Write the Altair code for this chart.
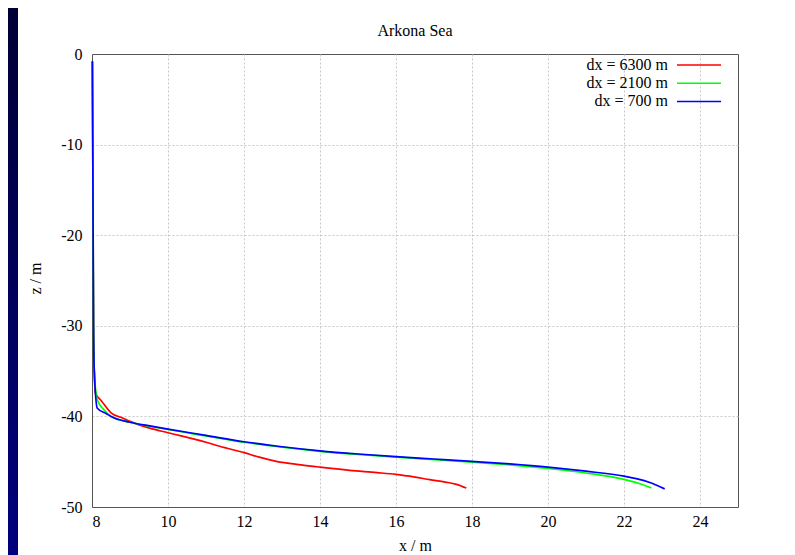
import altair as alt
import pandas as pd

series_labels = ["dx = 6300 m", "dx = 2100 m", "dx = 700 m"]
series_colors = ["#ff0000", "#00ff00", "#0000ff"]

x_ticks = [8, 10, 12, 14, 16, 18, 20, 22, 24]
y_ticks = [-50, -40, -30, -20, -10, 0]

x_6300 = [8.01, 8.02, 8.03, 8.04, 8.06, 8.09, 8.25, 8.5, 8.82, 9.0, 9.52, 10.0, 11.0, 11.36,
          12.0, 12.4, 12.85, 13.5, 14.0, 14.78, 15.5, 16.0, 16.5, 16.89, 17.3, 17.59, 17.85]
z_6300 = [-0.8, -10, -20, -30, -35, -37.4, -38.3, -39.6, -40.2, -40.55, -41.3, -41.8, -42.85, -43.3,
          -44.0, -44.5, -44.96, -45.35, -45.6, -45.95, -46.2, -46.4, -46.7, -46.98, -47.25, -47.5, -47.9]

x_2100 = [8.01, 8.02, 8.03, 8.04, 8.06, 8.14, 8.3, 8.5, 9.0, 10.0, 11.0, 12.0, 13.0, 14.0,
          15.0, 16.0, 17.0, 18.0, 19.0, 20.0, 21.0, 22.0, 22.4, 22.72]
z_2100 = [-0.8, -10, -20, -30, -35, -38.2, -39.2, -40.0, -40.65, -41.45, -42.15, -42.85, -43.4, -43.85,
          -44.2, -44.5, -44.78, -45.05, -45.35, -45.75, -46.25, -46.95, -47.4, -47.9]

x_700 = [8.01, 8.02, 8.03, 8.04, 8.06, 8.14, 8.38, 8.5, 9.0, 9.52, 10.0, 11.0, 12.0, 13.0, 14.0,
         15.0, 16.0, 17.0, 18.0, 19.0, 20.0, 21.0, 22.0, 22.35, 22.68, 23.07]
z_700 = [-0.8, -10, -20, -30, -35, -39.1, -39.7, -40.0, -40.65, -41.05, -41.4, -42.1, -42.8, -43.35, -43.8,
         -44.15, -44.45, -44.7, -44.96, -45.25, -45.6, -46.05, -46.6, -46.9, -47.3, -48.0]

rows = []
for label, xs, zs in [(series_labels[0], x_6300, z_6300),
                      (series_labels[1], x_2100, z_2100),
                      (series_labels[2], x_700, z_700)]:
    for i, (xv, zv) in enumerate(zip(xs, zs)):
        rows.append({"series": label, "x": xv, "z": zv, "i": i})
df = pd.DataFrame(rows)

FONT = "Liberation Serif"

lines = alt.Chart(df).mark_line(strokeWidth=1.7, interpolate="monotone").encode(
    x=alt.X("x:Q",
            scale=alt.Scale(domain=[8, 25], nice=False, zero=False),
            axis=alt.Axis(values=x_ticks, title="x / m", labelExpr="datum.value + ''",
                          ticks=False, tickSize=0, labelPadding=6,
                          titleY=43, titleBaseline="alphabetic")),
    y=alt.Y("z:Q",
            scale=alt.Scale(domain=[-50, 0], nice=False, zero=False),
            axis=alt.Axis(values=y_ticks, title="z / m", labelExpr="datum.value + ''",
                          ticks=False, tickSize=0, labelPadding=10,
                          gridOpacity={"condition": {"test": "datum.value == 0", "value": 0},
                                       "value": 1},
                          titleX=-57, titleY=224, titleAngle=270,
                          titleAlign="center", titleBaseline="middle")),
    color=alt.Color("series:N",
                    scale=alt.Scale(domain=series_labels, range=series_colors),
                    legend=alt.Legend(title=None, orient="none", legendX=558, legendY=2,
                                      symbolType="M-2.75,0H2.75", symbolSize=256,
                                      symbolStrokeWidth=1.5, labelAlign="right",
                                      labelOffset={"expr": "-40"}, symbolOffset=40,
                                      labelFont=FONT, labelFontSize=16, labelColor="black",
                                      rowPadding=1.2, padding=0)),
    order="i:Q",
)

strip = alt.Chart(pd.DataFrame({"a": [0]})).mark_rect(
    fill=alt.LinearGradient(gradient="linear",
                            stops=[alt.GradientStop(color="#000035", offset=0),
                                   alt.GradientStop(color="#00007f", offset=1)],
                            x1=0, x2=0, y1=0, y2=1)
).encode(x=alt.value(-84), x2=alt.value(-74), y=alt.value(-46), y2=alt.value(503))

chart = alt.layer(strip, lines).properties(
    width=646, height=453,
    title=alt.TitleParams("Arkona Sea", font=FONT, fontSize=16, fontWeight="normal",
                          color="black", offset=14, dy=45, anchor="middle"),
    autosize=alt.AutoSizeParams(type="none"),
    padding={"left": 84, "top": 46, "right": 49, "bottom": 50},
    background="white",
).configure_view(
    stroke="#555555", strokeWidth=1
).configure_axis(
    labelFont=FONT, labelFontSize=16, labelColor="black",
    titleFont=FONT, titleFontSize=16, titleFontWeight="normal", titleColor="black",
    domainColor="#555555", domainWidth=1,
    grid=True, gridColor="#c8c8c8", gridDash=[2, 2], gridWidth=1,
)

chart.save("out.html", embed_options={"renderer": "svg", "actions": False})
